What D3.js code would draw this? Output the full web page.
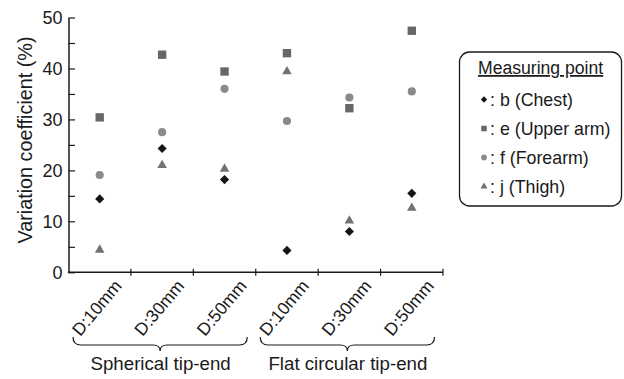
<!DOCTYPE html>
<html>
<head>
<meta charset="utf-8">
<script src="https://cdn.jsdelivr.net/npm/d3@7"></script>
<style>
  body { margin: 0; background: #fff; }
  text { font-family: "Liberation Sans", Arial, sans-serif; fill: #1a1a1a; }
</style>
</head>
<body>
<div id="chart"></div>
<script>
// data
var tickLabels = ["D:10mm", "D:30mm", "D:50mm", "D:10mm", "D:30mm", "D:50mm"]
var groups = ["Spherical tip-end", "Flat circular tip-end"]
var chest = [14.4, 24.3, 18.2, 4.3, 8.0, 15.5]
var upperArm = [30.4, 42.7, 39.4, 43.0, 32.2, 47.4]
var forearm = [19.1, 27.5, 36.0, 29.7, 34.3, 35.5]
var thigh = [4.4, 21.0, 20.3, 39.4, 10.1, 12.6]
var seriesNames = [": b (Chest)", ": e (Upper arm)", ": f (Forearm)", ": j (Thigh)"]

var W = 624, H = 379
var svg = d3.select("#chart").append("svg")
    .attr("width", W)
    .attr("height", H)

var plotLeft = 68.5, plotRight = 443, plotTop = 17.5, plotBottom = 272.3

var x = d3.scaleBand()
    .domain(d3.range(tickLabels.length))
    .range([plotLeft, plotRight])
    .paddingInner(0).paddingOuter(0)

var y = d3.scaleLinear()
    .domain([0, 50])
    .range([plotBottom, plotTop])

// y axis, ticks pointing inward
var yAxis = svg.append("g")
    .attr("transform", "translate(" + plotLeft + ",0)")
    .call(d3.axisLeft(y)
        .tickValues(d3.range(0, 51, 5))
        .tickSizeInner(-6.5)
        .tickSizeOuter(0)
        .tickPadding(6)
        .tickFormat(function (d) { return d % 10 === 0 ? d : ""; }))
yAxis.select(".domain").attr("stroke", "#1a1a1a").attr("stroke-width", 1.5)
yAxis.selectAll(".tick line").attr("stroke", "#1a1a1a").attr("stroke-width", 1.2)
yAxis.selectAll(".tick text")
    .style("font-size", "18px")
    .style("font-family", "Liberation Sans, Arial, sans-serif")
    .attr("fill", "#1a1a1a")

// x axis line and boundary ticks
svg.append("line")
    .attr("x1", plotLeft - 0.7).attr("x2", plotRight)
    .attr("y1", plotBottom).attr("y2", plotBottom)
    .attr("stroke", "#1a1a1a").attr("stroke-width", 1.5)

var bounds = d3.range(1, tickLabels.length + 1)
svg.selectAll(".xtick")
    .data(bounds)
    .enter().append("line")
    .attr("class", "xtick")
    .attr("x1", function (d) { return x(d - 1) + x.bandwidth(); })
    .attr("x2", function (d) { return x(d - 1) + x.bandwidth(); })
    .attr("y1", plotBottom - 3.5).attr("y2", plotBottom + 3.5)
    .attr("stroke", "#1a1a1a").attr("stroke-width", 1.2)

// rotated category labels
svg.selectAll(".xlab")
    .data(tickLabels)
    .enter().append("text")
    .attr("class", "xlab")
    .attr("text-anchor", "end")
    .attr("transform", function (d, i) {
        return "translate(" + (x(i) + x.bandwidth() / 2 + 23) + "," + (plotBottom + 14) + ") rotate(-50)";
    })
    .style("font-size", "17.5px")
    .text(function (d) { return d; })

// curly braces under each group
function brace(x0, x1, yTop, yMid, yTip) {
    var c = (x0 + x1) / 2
    return "M" + x0 + "," + yTop +
        " Q" + x0 + "," + yMid + " " + (x0 + 8) + "," + yMid +
        " L" + (c - 7) + "," + yMid +
        " Q" + c + "," + yMid + " " + c + "," + yTip +
        " Q" + c + "," + yMid + " " + (c + 7) + "," + yMid +
        " L" + (x1 - 8) + "," + yMid +
        " Q" + x1 + "," + yMid + " " + x1 + "," + yTop
}
groups.forEach(function (g, gi) {
    var g0 = x(gi * 3), g1 = x(gi * 3 + 2) + x.bandwidth()
    svg.append("path")
        .attr("d", brace(g0 + 4.5, g1 - 8.5, 337, 345, 351))
        .attr("fill", "none")
        .attr("stroke", "#1a1a1a")
        .attr("stroke-width", 1.2)
    svg.append("text")
        .attr("x", (g0 + g1) / 2 - 1.5)
        .attr("y", 370)
        .attr("text-anchor", "middle")
        .style("font-size", "18.7px")
        .text(g)
})

// y axis title
svg.append("text")
    .attr("transform", "translate(32,140) rotate(-90)")
    .attr("text-anchor", "middle")
    .style("font-size", "19.8px")
    .text("Variation coefficient (%)")

// markers
var shapes = [
    { data: chest, type: d3.symbolSquare, size: 42, rot: 45, color: "#151515" },
    { data: upperArm, type: d3.symbolSquare, size: 70, rot: 0, color: "#676767" },
    { data: forearm, type: d3.symbolCircle, size: 52, rot: 0, color: "#8a8a8a" },
    { data: thigh, type: d3.symbolTriangle, size: 40, rot: 0, color: "#727272" }
]

var scatter = svg.append("g")
shapes.forEach(function (s) {
    scatter.selectAll(null)
        .data(s.data)
        .enter().append("path")
        .attr("d", d3.symbol().type(s.type).size(s.size))
        .attr("fill", s.color)
        .attr("transform", function (d, i) {
            return "translate(" + (x(i) + x.bandwidth() / 2) + "," + y(d) + ") rotate(" + s.rot + ")";
        })
})

// legend
var legend = svg.append("g")
legend.append("rect")
    .attr("x", 459.5).attr("y", 52)
    .attr("width", 162).attr("height", 154)
    .attr("rx", 10)
    .attr("fill", "none")
    .attr("stroke", "#1a1a1a")
    .attr("stroke-width", 1.3)
legend.append("text")
    .attr("x", 478).attr("y", 74)
    .style("font-size", "17.6px")
    .attr("text-decoration", "underline")
    .text("Measuring point")

var legendSizes = [20, 30, 26, 22]
seriesNames.forEach(function (name, i) {
    var cy = 99.5 + i * 29
    legend.append("path")
        .attr("d", d3.symbol().type(shapes[i].type).size(legendSizes[i]))
        .attr("fill", shapes[i].color)
        .attr("transform", "translate(484," + cy + ") rotate(" + shapes[i].rot + ")")
    legend.append("text")
        .attr("x", 490).attr("y", cy + 6)
        .style("font-size", "17.8px")
        .text(name)
})
</script>
</body>
</html>
